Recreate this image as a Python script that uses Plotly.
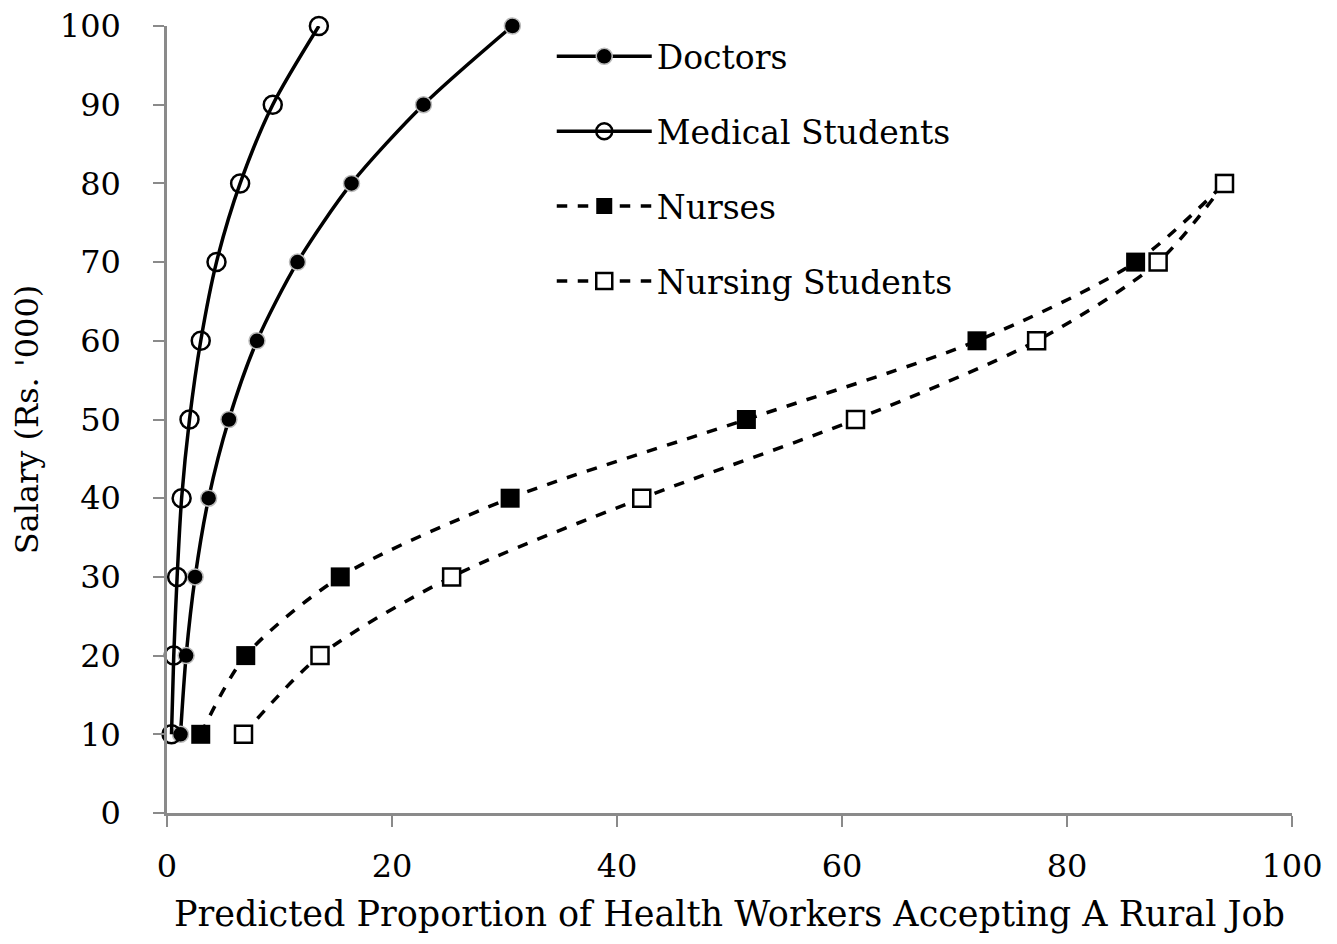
import plotly.graph_objects as go

salary_doc = [10, 20, 30, 40, 50, 60, 70, 80, 90, 100]
doctors = [1.2, 1.7, 2.5, 3.7, 5.5, 8.0, 11.6, 16.4, 22.8, 30.7]
med_students = [0.4, 0.6, 0.9, 1.3, 2.0, 3.0, 4.4, 6.5, 9.4, 13.5]

salary_nurse = [10, 20, 30, 40, 50, 60, 70, 80]
nurses = [3.0, 7.0, 15.4, 30.5, 51.5, 72.0, 86.1, 94.0]
nursing_students = [6.8, 13.6, 25.3, 42.2, 61.2, 77.3, 88.1, 94.0]

FONT = "DejaVu Serif"

fig = go.Figure()
fig.add_trace(go.Scatter(
    x=doctors, y=salary_doc, name="Doctors", mode="lines+markers",
    line=dict(color="black", width=3.5, shape="spline", smoothing=0.8),
    marker=dict(symbol="circle", size=16, color="black", line=dict(color="#bbbbbb", width=1.5)),
    legendgroup="a", cliponaxis=False))
fig.add_trace(go.Scatter(
    x=med_students, y=salary_doc, name="Medical Students", mode="lines+markers",
    line=dict(color="black", width=3.5, shape="spline", smoothing=0.8),
    marker=dict(symbol="circle-open", size=18, color="black", line=dict(width=2.5)),
    legendgroup="b", cliponaxis=False))
fig.add_trace(go.Scatter(
    x=nurses, y=salary_nurse, name="Nurses", mode="lines+markers",
    line=dict(color="black", width=3.5, dash="dash", shape="spline", smoothing=0.8),
    marker=dict(symbol="square", size=19, color="black"),
    legendgroup="c", cliponaxis=False))
fig.add_trace(go.Scatter(
    x=nursing_students, y=salary_nurse, name="Nursing Students", mode="lines+markers",
    line=dict(color="black", width=3.5, dash="dash", shape="spline", smoothing=0.8),
    marker=dict(symbol="square", size=17, color="white", line=dict(color="black", width=2.5)),
    legendgroup="d", cliponaxis=False))

axis_common = dict(
    showgrid=False, zeroline=False, showline=True, linecolor="#8a8a8a", linewidth=2.5,
    ticks="outside", tickcolor="#8a8a8a", tickwidth=2, ticklen=11, automargin=False,
    ticklabeloverflow="allow",
    tickfont=dict(family=FONT, size=32, color="black"),
)

fig.update_layout(
    width=1337, height=944,
    paper_bgcolor="white", plot_bgcolor="white",
    margin=dict(l=159, r=53, t=18, b=139),
    font=dict(family=FONT, color="black"),
    xaxis=dict(range=[0, 100], dtick=20, ticklabelstandoff=12,
               title=dict(text="Predicted Proportion of Health Workers Accepting A Rural Job",
                          font=dict(family=FONT, size=35), standoff=18),
               **axis_common),
    yaxis=dict(range=[0, 100], dtick=10, ticklabelstandoff=26,
               title=dict(text="Salary (Rs. '000)", font=dict(family=FONT, size=32), standoff=12),
               **axis_common),
    legend=dict(x=0.342, y=0.997, xanchor="left", yanchor="top",
                font=dict(family=FONT, size=33), bgcolor="rgba(0,0,0,0)",
                tracegroupgap=29, itemwidth=95),
    showlegend=True,
)

fig.write_html("out.html")
